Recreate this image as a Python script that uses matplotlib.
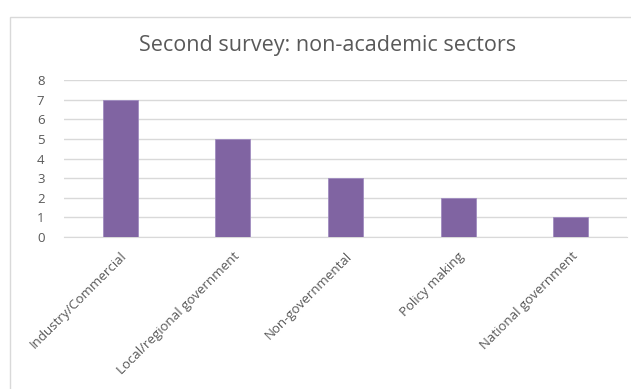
import matplotlib
matplotlib.use("Agg")
from matplotlib import pyplot as plt
from matplotlib.patches import Rectangle

sectors = ["Industry/Commercial", "Local/regional government", "Non-governmental",
           "Policy making", "National government"]
counts = [7, 5, 3, 2, 1]
y_ticks = [0, 1, 2, 3, 4, 5, 6, 7, 8]

plt.rcParams["font.family"] = ["Open Sans", "DejaVu Sans"]

fig = plt.figure(figsize=(6.31, 3.89), dpi=100)
fig.patches.append(Rectangle((10 / 631, -0.1), 1.0, 1 - 17 / 389 + 0.1,
                             transform=fig.transFigure, fill=False,
                             edgecolor="#d9d9d9", linewidth=1))

ax = fig.add_axes([64 / 631, 1 - 237 / 389, 563 / 631, 157 / 389])
ax.bar(range(len(sectors)), counts, width=0.31, color="#8064A2",
       edgecolor="#a08cc0", linewidth=0.6, zorder=3)
ax.set_xlim(-0.5, len(sectors) - 0.5)
ax.set_ylim(0, 8)
ax.set_yticks(y_ticks)
ax.yaxis.grid(True, color="#d9d9d9", linewidth=1, zorder=0)
ax.set_xticks(range(len(sectors)))
ax.set_xticklabels(sectors, rotation=45, ha="right", va="top",
                   rotation_mode="anchor", fontsize=9.5, color="#595959")
ax.tick_params(axis="y", labelsize=9.5, labelcolor="#595959", length=0, pad=14)
ax.tick_params(axis="x", length=0, pad=9)
for s in ["top", "right", "left"]:
    ax.spines[s].set_visible(False)
ax.spines["bottom"].set_color("#d9d9d9")

fig.text(328 / 631, 1 - 45 / 389, "Second survey: non-academic sectors",
         ha="center", va="center", fontsize=15.5, color="#595959")

fig.savefig("out.png", dpi=100)
